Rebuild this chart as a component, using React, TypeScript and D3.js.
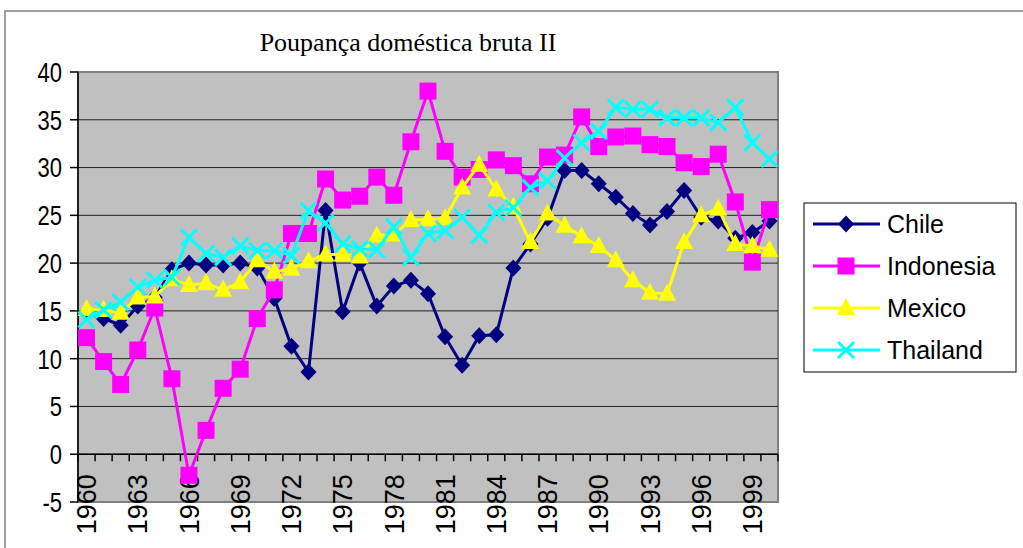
import React from "react";
import { scaleLinear, scaleBand, line, range } from "d3";

const width = 1023;
const height = 548;

const plot = { left: 78, right: 778, top: 72, bottom: 502 };

const plotFill = "#c0c0c0";

// Data
const years = range(1960, 2001);
const yTicks = [-5, 0, 5, 10, 15, 20, 25, 30, 35, 40];

const chile = [
  14.8, 14.2, 13.5, 15.5, 16.4, 19.3, 20.0, 19.8, 19.8, 20.0, 19.5, 16.3, 11.3,
  8.6, 25.5, 14.9, 20.0, 15.5, 17.6, 18.2, 16.8, 12.3, 9.3, 12.4, 12.5, 19.5,
  22.0, 24.7, 29.7, 29.7, 28.3, 26.9, 25.2, 24.0, 25.4, 27.6, 24.8, 24.4, 22.6,
  23.2, 24.4,
];
const indonesia = [
  12.2, 9.7, 7.3, 10.9, 15.3, 7.9, -2.2, 2.5, 6.9, 8.9, 14.2, 17.2, 23.1, 23.1,
  28.8, 26.6, 27.0, 29.0, 27.1, 32.7, 38.0, 31.7, 29.0, 29.8, 30.8, 30.2, 28.3,
  31.1, 31.3, 35.3, 32.2, 33.2, 33.3, 32.4, 32.2, 30.5, 30.1, 31.4, 26.4, 20.1,
  25.6,
];
const mexico = [
  15.2, 15.1, 14.8, 16.4, 16.5, 18.3, 17.7, 17.9, 17.2, 18.0, 20.3, 19.1, 19.4,
  20.2, 20.9, 20.9, 20.7, 22.9, 23.0, 24.5, 24.6, 24.7, 27.9, 30.3, 27.7, 25.9,
  22.2, 25.2, 23.9, 22.8, 21.8, 20.3, 18.2, 16.9, 16.8, 22.2, 25.0, 25.7, 22.0,
  21.8, 21.4,
];
const thailand = [
  14.1, 15.1, 15.9, 17.5, 18.2, 18.5, 22.7, 21.0, 20.6, 21.8, 21.3, 21.3, 20.8,
  25.5, 24.2, 22.0, 21.5, 21.4, 23.8, 20.6, 23.1, 23.4, 24.8, 22.9, 25.3, 25.8,
  27.9, 28.6, 31.0, 32.6, 33.8, 36.3, 36.1, 36.1, 35.2, 35.2, 35.2, 34.7, 36.3,
  32.6, 30.9,
];

const series = [
  { name: "Chile", values: chile, color: "#000080", marker: "diamond" },
  { name: "Indonesia", values: indonesia, color: "#ff00ff", marker: "square" },
  { name: "Mexico", values: mexico, color: "#ffff00", marker: "triangle" },
  { name: "Thailand", values: thailand, color: "#00ffff", marker: "x" },
];

const sans = "Arial, 'Liberation Sans', sans-serif";

// Marker shapes centered on 0,0
const Marker = ({ type, color, x, y }) => {
  if (type === "diamond") {
    return (
      <path
        transform={`translate(${x},${y})`}
        d="M0,-8.5L8,0L0,8.5L-8,0Z"
        fill={color}
      />
    );
  }
  if (type === "square") {
    return (
      <rect x={x - 8.5} y={y - 8.5} width={17} height={17} fill={color} />
    );
  }
  if (type === "triangle") {
    return (
      <path
        transform={`translate(${x},${y})`}
        d="M0,-10L9,7L-9,7Z"
        fill={color}
      />
    );
  }
  // x marker
  return (
    <path
      transform={`translate(${x},${y})`}
      d="M-8,-8L8,8M-8,8L8,-8"
      stroke={color}
      strokeWidth="3"
      fill="none"
    />
  );
};

const Legend = ({ x, y }) => {
  const rowGap = 42;
  return (
    <g transform={`translate(${x},${y})`}>
      <rect x={0} y={0} width={212} height={169} fill="#fff" stroke="#000" />
      {series.map((s, i) => {
        const cy = 21 + i * rowGap;
        return (
          <g key={s.name}>
            <line x1={9} x2={76} y1={cy} y2={cy} stroke={s.color} strokeWidth="3" />
            <Marker type={s.marker} color={s.color} x={42} y={cy} />
            <text
              x={83}
              y={cy}
              dy="0.36em"
              style={{ fontFamily: sans, fontSize: "25px" }}
            >
              {s.name}
            </text>
          </g>
        );
      })}
    </g>
  );
};

export default function App() {
  const xScale = scaleBand()
    .domain(years.map(String))
    .range([plot.left, plot.right]);
  const yScale = scaleLinear().domain([-5, 40]).range([plot.bottom, plot.top]);

  const cx = (i) => xScale(String(years[i])) + xScale.bandwidth() / 2;

  const lineGen = line()
    .x((d, i) => cx(i))
    .y((d) => yScale(d));

  const zeroY = yScale(0);

  // boundaries between categories for the x axis ticks
  const boundaries = range(years.length + 1).map(
    (i) => plot.left + i * xScale.step()
  );

  return (
    <svg
      width={width}
      height={height}
      style={{ position: "absolute", left: 0, top: 0, background: "#fff" }}
    >
      {/* outer chart frame */}
      <path d={`M5,${height + 5}L5,11L${width + 5},11`} fill="none" stroke="#808080" strokeWidth="1.5" />

      <text
        x={408}
        y={51}
        textAnchor="middle"
        style={{ fontFamily: "'Liberation Serif', serif", fontSize: "26px" }}
      >
        Poupança doméstica bruta II
      </text>

      <rect
        x={plot.left}
        y={plot.top}
        width={plot.right - plot.left}
        height={plot.bottom - plot.top}
        fill={plotFill}
        stroke="#808080"
        strokeWidth="2"
      />

      {/* horizontal gridlines */}
      {yTicks
        .filter((t) => t > -5 && t < 40)
        .map((t) => (
          <line
            key={t}
            x1={plot.left}
            x2={plot.right}
            y1={yScale(t)}
            y2={yScale(t)}
            stroke="#222"
            strokeWidth="1"
          />
        ))}

      {/* y axis */}
      <line x1={plot.left} x2={plot.left} y1={plot.top} y2={plot.bottom} stroke="#000" strokeWidth="1.5" />
      {yTicks.map((t) => (
        <g key={t}>
          <line x1={plot.left - 8} x2={plot.left} y1={yScale(t)} y2={yScale(t)} stroke="#000" strokeWidth="1.5" />
          <text
            transform={`translate(${plot.left - 16},${yScale(t)}) scale(1,1.25)`}
            dy="0.36em"
            textAnchor="end"
            style={{ fontFamily: sans, fontSize: "22px" }}
          >
            {t}
          </text>
        </g>
      ))}

      {/* x axis at zero */}
      <line x1={plot.left} x2={plot.right} y1={zeroY} y2={zeroY} stroke="#000" strokeWidth="1.5" />
      {boundaries.map((bx, i) => (
        <line key={i} x1={bx} x2={bx} y1={zeroY} y2={zeroY + 7} stroke="#000" strokeWidth="1.5" />
      ))}
      {years.map((yr, i) =>
        (yr - 1960) % 3 === 0 ? (
          <text
            key={yr}
            transform={`translate(${cx(i)},${zeroY + 20}) rotate(-90)`}
            dy="0.36em"
            textAnchor="end"
            style={{ fontFamily: sans, fontSize: "27px" }}
          >
            {yr}
          </text>
        ) : null
      )}

      {/* series */}
      {series.map((s) => (
        <g key={s.name}>
          <path d={lineGen(s.values)} fill="none" stroke={s.color} strokeWidth="3" />
          {s.values.map((v, i) => (
            <Marker key={i} type={s.marker} color={s.color} x={cx(i)} y={yScale(v)} />
          ))}
        </g>
      ))}

      <Legend x={804} y={203} />
    </svg>
  );
}
